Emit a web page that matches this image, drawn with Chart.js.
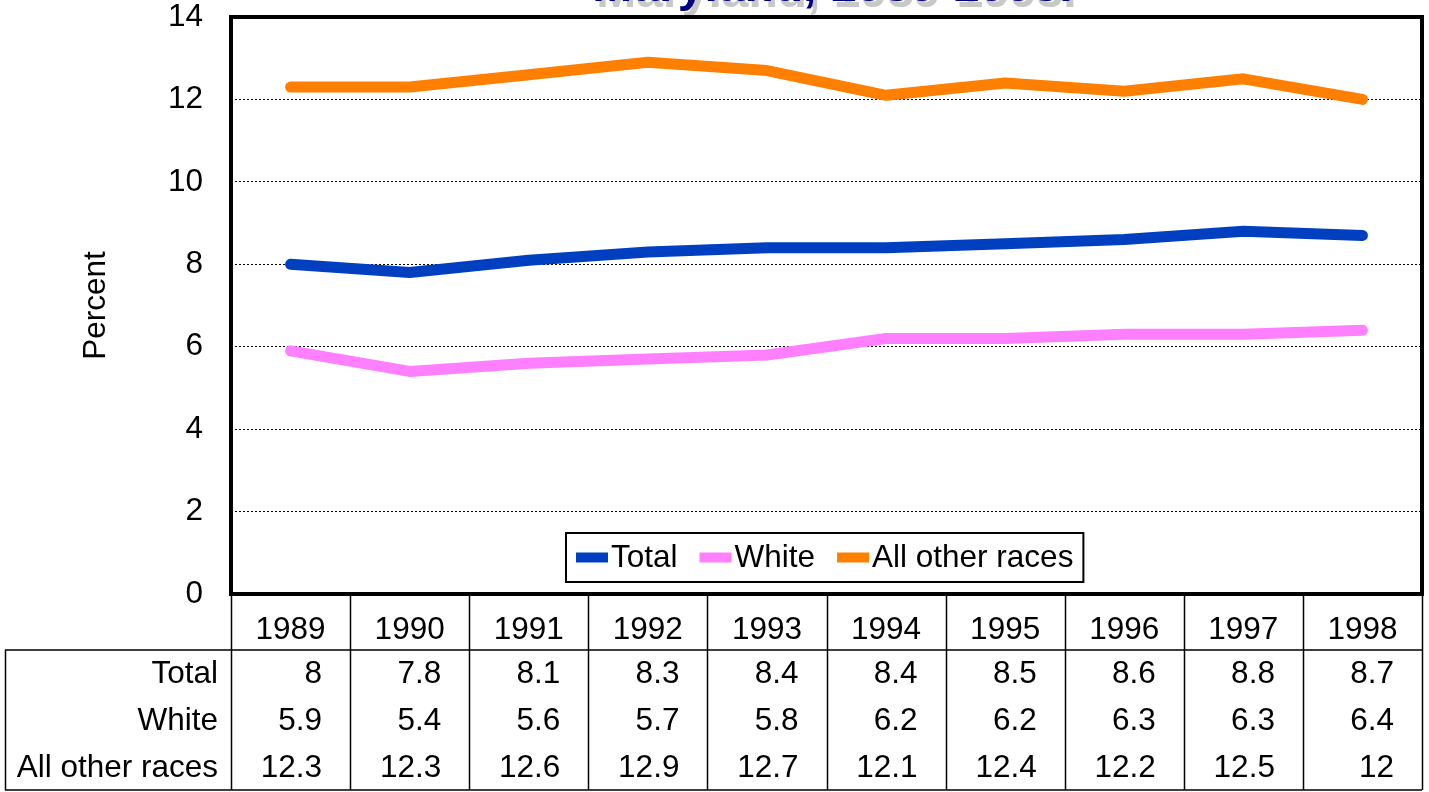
<!DOCTYPE html>
<html lang="en">
<head>
    <meta charset="UTF-8">
    <title>Maryland, 1989-1998</title>
    <script src="https://cdn.jsdelivr.net/npm/chart.js"></script>
    <style>
        body { margin: 0; background: #fff; }
        #wrap { width: 1429px; height: 792px; }
    </style>
</head>
<body>
    <div id="wrap"><canvas id="lbwChart"></canvas></div>

    <script>
        const years = ["1989", "1990", "1991", "1992", "1993", "1994", "1995", "1996", "1997", "1998"];
        const total = [8, 7.8, 8.1, 8.3, 8.4, 8.4, 8.5, 8.6, 8.8, 8.7];
        const white = [5.9, 5.4, 5.6, 5.7, 5.8, 6.2, 6.2, 6.3, 6.3, 6.4];
        const otherRaces = [12.3, 12.3, 12.6, 12.9, 12.7, 12.1, 12.4, 12.2, 12.5, 12];

        const FONT = "Liberation Sans, Arial, sans-serif";
        const FS = 31.5;

        // title is partly cut off at the top, like in the original
        const titlePlugin = {
            id: "cutTitle",
            afterDraw(chart) {
                const ctx = chart.ctx;
                const a = chart.chartArea;
                const cx = (a.left + a.right) / 2 + 6;
                ctx.save();
                ctx.font = "bold 48px " + FONT;
                ctx.textAlign = "center";
                ctx.textBaseline = "alphabetic";
                ctx.fillStyle = "#c8c8c8";
                ctx.fillText("Maryland, 1989-1998.", cx + 4, 7);
                ctx.fillStyle = "#000080";
                ctx.fillText("Maryland, 1989-1998.", cx, 1);

                // y axis title
                ctx.font = FS + "px " + FONT;
                ctx.fillStyle = "#000";
                ctx.textBaseline = "middle";
                ctx.translate(96, (a.top + a.bottom) / 2);
                ctx.rotate(-Math.PI / 2);
                ctx.fillText("Percent", 0, 0);
                ctx.restore();
            }
        };

        // frame, legend box and data table
        const extrasPlugin = {
            id: "extras",
            afterDraw(chart) {
                const ctx = chart.ctx;
                const a = chart.chartArea;
                const x = chart.scales.x;
                const colW = (a.right - a.left) / years.length;
                ctx.save();

                // plot frame
                ctx.strokeStyle = "#000";
                ctx.lineWidth = 4;
                ctx.strokeRect(a.left, a.top, a.right - a.left, a.bottom - a.top);

                // legend
                const items = chart.data.datasets;
                ctx.font = FS + "px " + FONT;
                ctx.textBaseline = "middle";
                const sw = 32;
                let widths = items.map(d => sw + 3 + ctx.measureText(d.label).width);
                let gap = 22;
                let boxW = widths.reduce((s, w) => s + w, 0) + gap * (items.length - 1) + 20;
                let boxX = 566, boxY = 533, boxH = 49;
                ctx.fillStyle = "#fff";
                ctx.fillRect(boxX, boxY, boxW, boxH);
                ctx.lineWidth = 2;
                ctx.strokeRect(boxX, boxY, boxW, boxH);
                let lx = boxX + 10;
                items.forEach((d, i) => {
                    ctx.fillStyle = d.borderColor;
                    ctx.fillRect(lx, boxY + boxH / 2 - 5, sw, 10);
                    ctx.fillStyle = "#000";
                    ctx.textAlign = "left";
                    ctx.fillText(d.label, lx + sw + 3, boxY + boxH / 2 + 1);
                    lx += widths[i] + gap;
                });

                // data table
                const top = a.bottom + 2;
                const headBottom = 650;
                const bottom = 790;
                const tableLeft = 5;
                ctx.strokeStyle = "#000";
                ctx.lineWidth = 1.5;
                ctx.beginPath();
                for (let i = 0; i <= years.length; i++) {
                    const px = Math.round(a.left + i * colW) + 0.5;
                    ctx.moveTo(px, top);
                    ctx.lineTo(px, bottom);
                }
                ctx.moveTo(tableLeft, headBottom); ctx.lineTo(a.right, headBottom);
                ctx.moveTo(tableLeft, bottom); ctx.lineTo(a.right, bottom);
                ctx.moveTo(tableLeft + 0.5, headBottom); ctx.lineTo(tableLeft + 0.5, bottom);
                ctx.stroke();

                ctx.fillStyle = "#000";
                ctx.font = FS + "px " + FONT;
                ctx.textAlign = "center";
                years.forEach((y, i) => {
                    ctx.fillText(y, x.getPixelForValue(i), 630);
                });
                const rows = [["Total", total, 674], ["White", white, 721], ["All other races", otherRaces, 768]];
                rows.forEach(r => {
                    ctx.textAlign = "right";
                    ctx.fillText(r[0], a.left - 13, r[2]);
                    r[1].forEach((v, i) => {
                        ctx.fillText(String(v), a.left + (i + 1) * colW - 28, r[2]);
                    });
                });
                ctx.restore();
            }
        };

        new Chart(document.getElementById("lbwChart"), {
            type: "line",
            data: {
                labels: years,
                datasets: [
                    { label: "Total", data: total, borderColor: "#0040c0", backgroundColor: "#0040c0" },
                    { label: "White", data: white, borderColor: "#ff80ff", backgroundColor: "#ff80ff" },
                    { label: "All other races", data: otherRaces, borderColor: "#ff8000", backgroundColor: "#ff8000" }
                ]
            },
            options: {
                responsive: true,
                maintainAspectRatio: false,
                animation: false,
                layout: { padding: { top: 17, right: 7, bottom: 198, left: 0 } },
                elements: {
                    line: { borderWidth: 11, borderCapStyle: "round", borderJoinStyle: "round", tension: 0 },
                    point: { radius: 0, hoverRadius: 0 }
                },
                plugins: { legend: { display: false }, tooltip: { enabled: false } },
                scales: {
                    x: {
                        display: false,
                        offset: true
                    },
                    y: {
                        min: 0,
                        max: 14,
                        afterFit(s) {
                            s.width = 231;
                            s.paddingTop = 0;
                            s.paddingBottom = 0;
                        },
                        ticks: {
                            stepSize: 2,
                            padding: 28,
                            color: "#000",
                            font: { family: FONT, size: FS }
                        },
                        grid: {
                            drawTicks: false,
                            color: c => (c.tick.value === 0 || c.tick.value === 14) ? "rgba(0,0,0,0)" : "#000",
                            lineWidth: 1
                        },
                        border: { display: false, dash: [2, 2] }
                    }
                }
            },
            plugins: [titlePlugin, extrasPlugin]
        });
    </script>
</body>
</html>
